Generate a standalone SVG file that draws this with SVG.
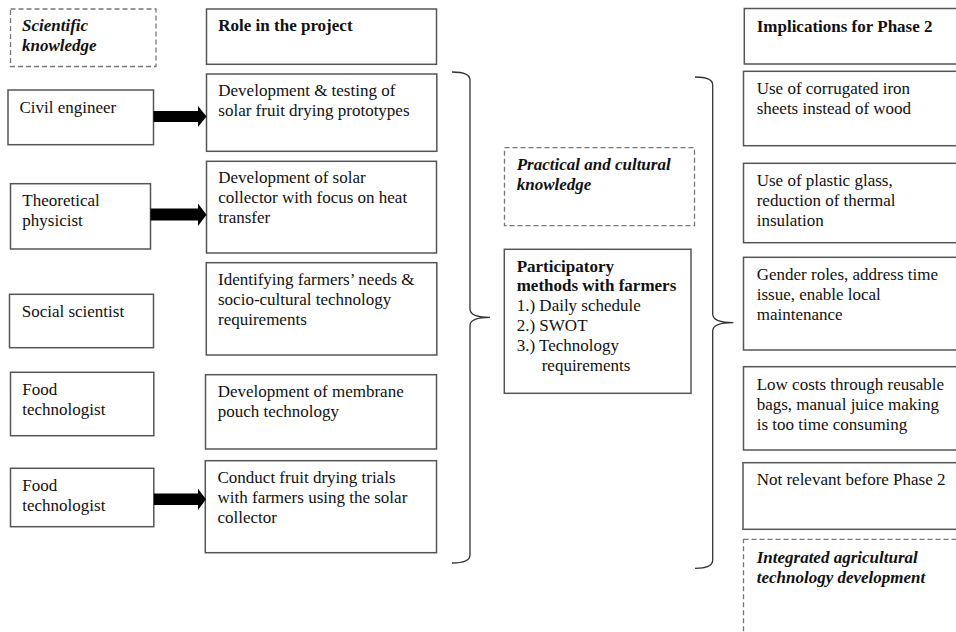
<svg xmlns="http://www.w3.org/2000/svg" width="956" height="632" viewBox="0 0 956 632">
<style>
text{font-family:"Liberation Serif","Times New Roman",serif;font-size:17px;fill:#111}
.b{font-weight:bold}
.bi{font-weight:bold;font-style:italic}
.box{fill:#fff;stroke:#555;stroke-width:1.5}
.dash{fill:#fff;stroke:#777;stroke-width:1.3;stroke-dasharray:5,3}
.brace{fill:none;stroke:#333;stroke-width:1.3}
.arrow{fill:#000}
</style>
<rect width="956" height="632" fill="#fff"/>

<g id="scientific-knowledge">
<rect class="dash" x="10.5" y="9" width="145.5" height="57.5"/>
<text class="bi" x="22" y="30.5">Scientific</text>
<text class="bi" x="22" y="50.5">knowledge</text>
</g>
<g id="role-header">
<rect class="box" x="206.5" y="9" width="230" height="55.3"/>
<text class="b" x="218.3" y="30.7">Role in the project</text>
</g>
<g id="civil-engineer">
<rect class="box" x="8" y="90" width="145.5" height="54.7"/>
<text x="19.5" y="113.3">Civil engineer</text>
</g>
<g id="role-1">
<rect class="box" x="206.5" y="74" width="230.3" height="77.3"/>
<text x="218.3" y="96">Development &amp; testing of</text>
<text x="218.3" y="116">solar fruit drying prototypes</text>
</g>
<g id="theoretical-physicist">
<rect class="box" x="10.5" y="183.7" width="140" height="65.3"/>
<text x="22.3" y="206">Theoretical</text>
<text x="22.3" y="226">physicist</text>
</g>
<g id="role-2">
<rect class="box" x="206.5" y="161.3" width="230" height="91.7"/>
<text x="218.3" y="183.3">Development of solar</text>
<text x="218.3" y="203.3">collector with focus on heat</text>
<text x="218.3" y="223.3">transfer</text>
</g>
<g id="social-scientist">
<rect class="box" x="9.5" y="294.3" width="144" height="53.4"/>
<text x="21.7" y="316.7">Social scientist</text>
</g>
<g id="role-3">
<rect class="box" x="206.3" y="262.7" width="230.5" height="92.3"/>
<text x="218" y="284.7">Identifying farmers’ needs &amp;</text>
<text x="218" y="304.7">socio-cultural technology</text>
<text x="218" y="324.7">requirements</text>
</g>
<g id="food-technologist-1">
<rect class="box" x="10.5" y="372.3" width="143.3" height="63.4"/>
<text x="22.3" y="395">Food</text>
<text x="22.3" y="415">technologist</text>
</g>
<g id="role-4">
<rect class="box" x="205.5" y="374.7" width="231" height="74.3"/>
<text x="217.7" y="396.7">Development of membrane</text>
<text x="217.7" y="416.7">pouch technology</text>
</g>
<g id="food-technologist-2">
<rect class="box" x="10.5" y="468.3" width="143.3" height="58.4"/>
<text x="22.3" y="491">Food</text>
<text x="22.3" y="511">technologist</text>
</g>
<g id="role-5">
<rect class="box" x="205.3" y="460.7" width="231.2" height="92"/>
<text x="217.5" y="482.7">Conduct fruit drying trials</text>
<text x="217.5" y="502.7">with farmers using the solar</text>
<text x="217.5" y="522.7">collector</text>
</g>
<g id="practical-knowledge">
<rect class="dash" x="504.5" y="147.7" width="190" height="78"/>
<text class="bi" x="516.7" y="170">Practical and cultural</text>
<text class="bi" x="516.7" y="190">knowledge</text>
</g>
<g id="participatory-methods">
<rect class="box" x="504.3" y="249.3" width="186.7" height="144"/>
<text class="b" x="516.7" y="271.7">Participatory</text>
<text class="b" x="516.7" y="291.2">methods with farmers</text>
<text x="516.7" y="310.7">1.) Daily schedule</text>
<text x="516.7" y="330.7">2.) SWOT</text>
<text x="516.7" y="350.7">3.) Technology</text>
<text x="541.7" y="370.7">requirements</text>
</g>
<g id="implications-header">
<rect class="box" x="744.3" y="8.5" width="220" height="55.5"/>
<text class="b" x="756.7" y="31.7">Implications for Phase 2</text>
</g>
<g id="impl-1">
<rect class="box" x="743.5" y="71.3" width="220" height="74.4"/>
<text x="756.7" y="94">Use of corrugated iron</text>
<text x="756.7" y="114">sheets instead of wood</text>
</g>
<g id="impl-2">
<rect class="box" x="743.5" y="163.3" width="220" height="79.4"/>
<text x="756.7" y="186.3">Use of plastic glass,</text>
<text x="756.7" y="206.3">reduction of thermal</text>
<text x="756.7" y="226.3">insulation</text>
</g>
<g id="impl-3">
<rect class="box" x="743.5" y="257.3" width="220" height="92.7"/>
<text x="756.7" y="280">Gender roles, address time</text>
<text x="756.7" y="300">issue, enable local</text>
<text x="756.7" y="320">maintenance</text>
</g>
<g id="impl-4">
<rect class="box" x="743.5" y="366.7" width="220" height="83.3"/>
<text x="756.7" y="390">Low costs through reusable</text>
<text x="756.7" y="410">bags, manual juice making</text>
<text x="756.7" y="430">is too time consuming</text>
</g>
<g id="impl-5">
<rect class="box" x="743" y="462.7" width="220" height="66.6"/>
<text x="756.7" y="485">Not relevant before Phase 2</text>
</g>
<g id="integrated-development">
<rect class="dash" x="743.5" y="539.3" width="220" height="110"/>
<text class="bi" x="756.7" y="563.3">Integrated agricultural</text>
<text class="bi" x="756.7" y="583.3">technology development</text>
</g>

<g id="connectors">
<polygon class="arrow" points="153.5,111 198,111 198,106 206.5,116.5 198,127 198,122 153.5,122"/>
<polygon class="arrow" points="150.5,208.5 198,208.5 198,203.5 206.5,214.8 198,226 198,220.5 150.5,220.5"/>
<polygon class="arrow" points="153.8,493.5 198,493.5 198,488.8 206,499.3 198,510 198,505 153.8,505"/>
<path class="brace" d="M452,72 Q470,72 470,80 L470,309 Q470,317.3 490,317.3 Q470,317.3 470,325.5 L470,555 Q470,563 452,563"/>
<path class="brace" d="M695,77 Q712.7,77 712.7,85 L712.7,314 Q712.7,322.6 733.3,322.6 Q712.7,322.6 712.7,331 L712.7,560 Q712.7,568.3 695,568.3"/>
</g>
</svg>
